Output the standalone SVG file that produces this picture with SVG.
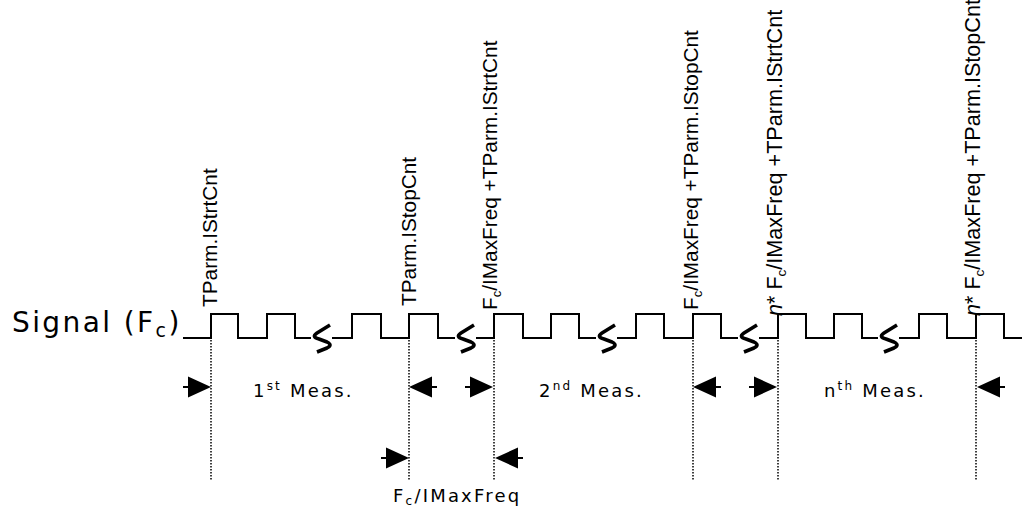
<svg xmlns="http://www.w3.org/2000/svg" width="1022" height="506" viewBox="0 0 1022 506">
<style>
.wave{fill:none;stroke:#000;stroke-width:2}
.dot{stroke:#000;stroke-width:1.5;stroke-dasharray:1.5 1.5}
.brk{fill:none;stroke:#000;stroke-width:3.6;stroke-linejoin:round}
.rot{font-family:"Liberation Sans",Arial,sans-serif;font-size:20.8px;fill:#000}
.rotn{font-family:"Liberation Sans",Arial,sans-serif;font-size:21.6px;fill:#000}
.lbl{font-family:"DejaVu Sans",Verdana,sans-serif;font-size:18px;fill:#000;letter-spacing:2.2px}
.sig{font-family:"DejaVu Sans",Verdana,sans-serif;font-size:28px;fill:#000;letter-spacing:2.4px}
</style>
<defs>
<g id="arrR"><line x1="-28" y1="0" x2="-22" y2="0" stroke="#000" stroke-width="2"/><polygon points="-23,-10.5 0,0 -23,10.5" fill="#000"/></g>
<g id="arrL"><line x1="28" y1="0" x2="22" y2="0" stroke="#000" stroke-width="2"/><polygon points="23,-10.5 0,0 23,10.5" fill="#000"/></g>
<path id="brkS" d="M8,-13 L-5,-5 Q-11,-1 -3,1 L5,4 Q11,7 5,10 L-5,14"/>
</defs>
<g id="signal-label">
<text class="sig" x="12" y="332">Signal (F<tspan dy="5" font-size="19">c</tspan><tspan dy="-5">)</tspan></text>
</g>
<g id="signal">
<path class="wave" d="M183,338 H211 V314 H238 V338 H267 V314 H295 V338 H352 V314 H381 V338 H409 V314 H438 V338 H494 V314 H523 V338 H551 V314 H579 V338 H636 V314 H664 V338 H693 V314 H721 V338 H778 V314 H806 V338 H834 V314 H862 V338 H919 V314 H947 V338 H976 V314 H1004 V338 H1022"/>
<g class="brk">
<rect x="311" y="335" width="21" height="6" fill="#fff" stroke="none"/>
<use href="#brkS" x="322" y="338"/>
<rect x="455" y="335" width="21" height="6" fill="#fff" stroke="none"/>
<use href="#brkS" x="466" y="338"/>
<rect x="596" y="335" width="21" height="6" fill="#fff" stroke="none"/>
<use href="#brkS" x="607" y="338"/>
<rect x="738" y="335" width="21" height="6" fill="#fff" stroke="none"/>
<use href="#brkS" x="749" y="338"/>
<rect x="878" y="335" width="21" height="6" fill="#fff" stroke="none"/>
<use href="#brkS" x="889" y="338"/>
</g>
</g>
<g id="label-start"><text class="rot" transform="translate(217,307) rotate(-90)">TParm.IStrtCnt</text></g>
<g id="label-stop"><text class="rot" transform="translate(416,306) rotate(-90)">TParm.IStopCnt</text></g>
<g id="label-start2"><text class="rot" transform="translate(497,310) rotate(-90)">F<tspan dy="4" font-size="13">c</tspan><tspan dy="-4">/IMaxFreq +TParm.IStrtCnt</tspan></text></g>
<g id="label-stop2"><text class="rot" transform="translate(698,310) rotate(-90)">F<tspan dy="4" font-size="13">c</tspan><tspan dy="-4">/IMaxFreq +TParm.IStopCnt</tspan></text></g>
<g id="label-startn"><text class="rotn" transform="translate(782,316) rotate(-90)"><tspan font-style="italic">n</tspan>* F<tspan dy="4" font-size="13.5">c</tspan><tspan dy="-4">/IMaxFreq +TParm.IStrtCnt</tspan></text></g>
<g id="label-stopn"><text class="rotn" transform="translate(980,316) rotate(-90)"><tspan font-style="italic">n</tspan>* F<tspan dy="4" font-size="13.5">c</tspan><tspan dy="-4">/IMaxFreq +TParm.IStopCnt</tspan></text></g>
<g id="meas1"><text class="lbl" x="253" y="397">1<tspan dy="-7" font-size="12">st</tspan><tspan dy="7"> Meas.</tspan></text></g>
<g id="meas2"><text class="lbl" x="539" y="397">2<tspan dy="-7" font-size="12">nd</tspan><tspan dy="7"> Meas.</tspan></text></g>
<g id="measn"><text class="lbl" x="824" y="397">n<tspan dy="-7" font-size="12">th</tspan><tspan dy="7"> Meas.</tspan></text></g>
<g id="gap-label"><text class="lbl" x="393" y="502">F<tspan dy="3" font-size="12">c</tspan><tspan dy="-3">/IMaxFreq</tspan></text></g>
<g id="connectors">
<line class="dot" x1="211" y1="340" x2="211" y2="481"/>
<line class="dot" x1="409" y1="340" x2="409" y2="481"/>
<line class="dot" x1="494" y1="340" x2="494" y2="481"/>
<line class="dot" x1="693" y1="340" x2="693" y2="481"/>
<line class="dot" x1="778" y1="340" x2="778" y2="481"/>
<line class="dot" x1="976" y1="340" x2="976" y2="481"/>
<use href="#arrR" x="211" y="387"/>
<use href="#arrL" x="409" y="387"/>
<use href="#arrR" x="493" y="387"/>
<use href="#arrL" x="693" y="387"/>
<use href="#arrR" x="777" y="387"/>
<use href="#arrL" x="977" y="387"/>
<use href="#arrR" x="409" y="458"/>
<use href="#arrL" x="495" y="458"/>
</g>
</svg>
